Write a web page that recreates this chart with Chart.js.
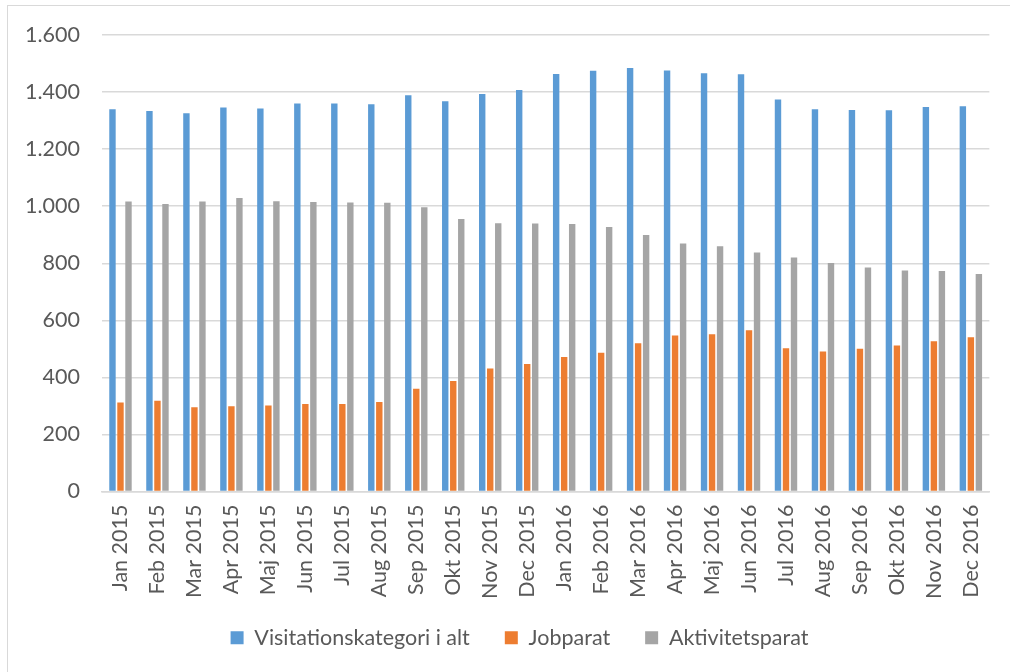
<!DOCTYPE html>
<html>
<head>
<meta charset="utf-8">
<script src="https://cdn.jsdelivr.net/npm/chart.js@4/dist/chart.umd.min.js"></script>
<style>
  html, body { margin: 0; padding: 0; background: #fff; overflow: hidden; }
  #wrap { position: relative; width: 1010px; height: 700px; }
  #frame { position: absolute; left: 7px; top: 5px; width: 1100px; height: 800px; border-left: 1.5px solid #d9d9d9; border-top: 1.5px solid #d9d9d9; box-sizing: border-box; pointer-events: none; }
  canvas { position: absolute; left: 0; top: 0; }
</style>
</head>
<body>
<div id="wrap">
  <div id="frame"></div>
  <canvas id="c" width="1010" height="700"></canvas>
</div>
<script>
const categories = ["Jan 2015","Feb 2015","Mar 2015","Apr 2015","Maj 2015","Jun 2015","Jul 2015","Aug 2015","Sep 2015","Okt 2015","Nov 2015","Dec 2015",
                    "Jan 2016","Feb 2016","Mar 2016","Apr 2016","Maj 2016","Jun 2016","Jul 2016","Aug 2016","Sep 2016","Okt 2016","Nov 2016","Dec 2016"];
const visitation = [1340,1334,1326,1346,1342,1360,1360,1357,1389,1368,1393,1407,
                    1463,1475,1484,1476,1466,1462,1374,1340,1337,1336,1348,1350];
const jobparat = [312,318,295,299,301,307,307,314,360,387,431,447,
                  471,486,520,547,551,565,502,491,500,512,527,541];
const aktivitetsparat = [1016,1008,1016,1029,1017,1015,1013,1012,996,955,940,939,
                         938,927,899,869,860,838,820,801,785,775,773,762];
const seriesNames = ["Visitationskategori i alt","Jobparat","Aktivitetsparat"];
const seriesColors = ["#5b9bd5","#ed7d31","#a5a5a5"];
const yMax = 1600, yStep = 200;

function fmt(v) { return String(v).replace(/\B(?=(\d{3})+(?!\d))/g, "."); }

const textColor = "#595959";
const fontFamily = "Lato, 'Open Sans', sans-serif";
const fontSize = 21.5;

const legendPlace = {
  id: "legendPlace",
  afterLayout(chart) {
    const lg = chart.legend;
    if (!lg) return;
    const h = lg.bottom - lg.top;
    lg.top = 592; lg.bottom = 592 + h;
    lg.left = 45; lg.right = 994; lg.width = lg.right - lg.left;
  }
};

new Chart(document.getElementById("c"), {
  type: "bar",
  data: {
    labels: categories,
    datasets: [visitation, jobparat, aktivitetsparat].map((d, i) => ({
      label: seriesNames[i],
      data: d,
      backgroundColor: seriesColors[i],
      borderWidth: 0,
      categoryPercentage: 0.65,
      barPercentage: 0.8
    }))
  },
  plugins: [legendPlace],
  options: {
    responsive: false,
    animation: false,
    layout: { padding: { top: 35, right: 16, bottom: 0, left: 0 } },
    scales: {
      y: {
        min: 0, max: yMax,
        ticks: { stepSize: yStep, color: textColor, padding: 22, font: { family: fontFamily, size: fontSize }, callback: v => fmt(v) },
        grid: { color: "#d9d9d9", lineWidth: 1.5, drawTicks: false },
        border: { display: false },
        afterFit: s => { s.width = 102; }
      },
      x: {
        ticks: { color: textColor, padding: 13, minRotation: 90, maxRotation: 90, autoSkip: false, font: { family: fontFamily, size: fontSize } },
        grid: { display: false, drawTicks: false },
        border: { display: true, color: "#d9d9d9", width: 1.5 },
        afterFit: s => { s.height = 142; }
      }
    },
    plugins: {
      legend: {
        position: "bottom",
        labels: { color: textColor, boxWidth: 13, boxHeight: 13, padding: 35, font: { family: fontFamily, size: fontSize } }
      },
      tooltip: { enabled: false }
    }
  }
});
</script>
</body>
</html>
